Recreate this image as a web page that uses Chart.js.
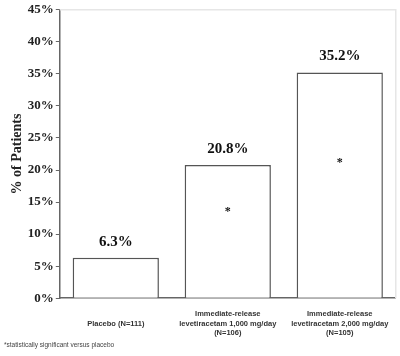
<!DOCTYPE html>
<html>
<head>
<meta charset="utf-8">
<script src="https://cdn.jsdelivr.net/npm/chart.js@4/dist/chart.umd.min.js"></script>
<style>
  html, body { margin: 0; padding: 0; background: #fff; }
  #wrap { position: relative; width: 400px; height: 356px; }
  #note { position: absolute; left: 4px; top: 341px; font: 6.5px "Liberation Sans", Arial, sans-serif; color: #444; }
</style>
</head>
<body>
<div id="wrap">
  <canvas id="chart" width="400" height="349"></canvas>
  <div id="note">*statistically significant versus placebo</div>
</div>
<script>
  const categories = [
    ['', 'Placebo (N=111)'],
    ['Immediate-release', 'levetiracetam 1,000 mg/day', '(N=106)'],
    ['Immediate-release', 'levetiracetam 2,000 mg/day', '(N=105)']
  ];
  const patientPct = [6.3, 20.8, 35.2];
  // where the significance star sits inside each bar (null = none)
  const starAt = [null, 13.9, 21.6];
  const yTicks = [0, 5, 10, 15, 20, 25, 30, 35, 40, 45];

  const frame = {
    id: 'frame',
    beforeDatasetsDraw(chart) {
      const { ctx, chartArea: a } = chart;
      ctx.save();
      ctx.strokeStyle = '#e6e6e6';
      ctx.lineWidth = 1.5;
      ctx.beginPath();
      ctx.moveTo(a.left, a.top);
      ctx.lineTo(a.right, a.top);
      ctx.lineTo(a.right, a.bottom);
      ctx.stroke();
      ctx.restore();
    }
  };

  const labels = {
    id: 'labels',
    afterDatasetsDraw(chart) {
      const { ctx } = chart;
      const y = chart.scales.y;
      const bars = chart.getDatasetMeta(0).data;
      ctx.save();
      ctx.fillStyle = '#111';
      ctx.textAlign = 'center';
      ctx.textBaseline = 'middle';
      bars.forEach((bar, i) => {
        ctx.font = 'bold 15px "Liberation Serif", "Times New Roman", serif';
        ctx.fillText(patientPct[i].toFixed(1) + '%', bar.x, bar.y - 16);
        if (starAt[i] != null) {
          ctx.font = 'bold 12px "Liberation Serif", serif';
          ctx.fillText('*', bar.x, y.getPixelForValue(starAt[i]) + 3);
        }
      });
      ctx.restore();
    }
  };

  new Chart(document.getElementById('chart'), {
    type: 'bar',
    data: {
      labels: categories,
      datasets: [{
        data: patientPct,
        backgroundColor: '#fff',
        borderColor: '#555',
        borderWidth: 1.5,
        categoryPercentage: 0.77,
        barPercentage: 1
      }]
    },
    options: {
      responsive: false,
      animation: false,
      layout: { padding: { top: 4, right: 4, left: 9 } },
      plugins: { legend: { display: false }, tooltip: { enabled: false } },
      scales: {
        x: {
          grid: { drawOnChartArea: false, drawTicks: false },
          border: { color: '#666', width: 1.5 },
          ticks: {
            padding: 11,
            color: '#333',
            maxRotation: 0,
            autoSkip: false,
            font: { family: '"Liberation Sans", Arial, sans-serif', size: 7.5, weight: 'bold', lineHeight: 1.28 }
          }
        },
        y: {
          min: 0,
          max: 45,
          afterBuildTicks(axis) { axis.ticks = yTicks.map(v => ({ value: v })); },
          grid: { drawOnChartArea: false, drawTicks: true, tickLength: 4, color: '#666' },
          border: { color: '#666', width: 1.5 },
          title: {
            display: true,
            text: '% of Patients',
            color: '#222',
            padding: 0,
            font: { family: '"Liberation Serif", "Times New Roman", serif', size: 14, weight: 'bold' }
          },
          ticks: {
            padding: 2,
            color: '#222',
            callback: v => v + '%',
            font: { family: '"Liberation Serif", "Times New Roman", serif', size: 13, weight: 'bold' }
          }
        }
      }
    },
    plugins: [frame, labels]
  });
</script>
</body>
</html>
